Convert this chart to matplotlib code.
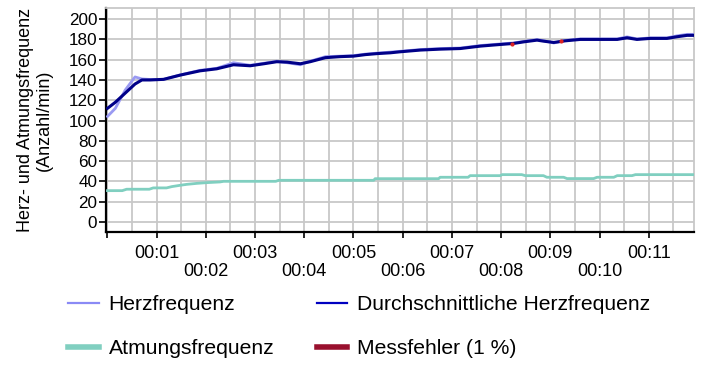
import matplotlib
matplotlib.use("Agg")
import matplotlib.pyplot as plt
from matplotlib.lines import Line2D

plt.rcParams['font.family'] = ['Liberation Sans', 'DejaVu Sans']

# ---- data (minutes, counts per minute) ----
hr_time = [0, 0.16, 0.36, 0.56, 0.7, 0.87, 1.14, 1.48, 1.88, 2.22, 2.56, 2.9, 3.18,
           3.44, 3.65, 3.92, 4.12, 4.43, 4.73, 5.0, 5.24, 5.48, 5.75, 5.95, 6.36,
           6.76, 7.17, 7.58, 7.98, 8.25, 8.46, 8.73, 8.86, 9.07, 9.3, 9.61, 10.0,
           10.36, 10.56, 10.76, 11.03, 11.37, 11.57, 11.78, 11.9]
hr_avg = [112, 118, 127, 136, 140, 140, 140.6, 144.8, 149, 151, 155, 154, 156,
          158, 157.6, 156, 158, 162, 163, 163.5, 165, 166, 166.8, 167.8, 169.5,
          170.4, 171, 173.4, 175, 176, 177.6, 179.3, 178.3, 177, 178.6, 180, 180,
          180, 181.6, 180, 181, 181, 182.6, 184, 184]
hr_raw = [104, 112, 130, 143, 141, 140.5, 140.6, 145, 149.5, 151.5, 157, 154.5, 156.5,
          158.5, 157, 155, 158.5, 163, 163.5, 164, 165.5, 166.5, 167.5, 168.3, 170,
          171, 171.5, 174, 175.5, 176.5, 178, 179.8, 178.8, 176.5, 179, 180.5, 180.5,
          180.5, 182.5, 180.5, 181.5, 181.5, 183.5, 185, 185]

resp_time = [0, 0.3, 0.39, 0.85, 0.93, 1.2, 1.31, 1.48, 1.61, 1.82, 2.02, 2.29, 2.36,
             3.42, 3.48, 5.41, 5.44, 6.73, 6.76, 7.33, 7.37, 7.98, 8.02, 8.42, 8.49,
             8.86, 8.93, 9.27, 9.34, 9.88, 9.95, 10.29, 10.36, 10.66, 10.73, 11.9]
resp_val = [30.8, 30.8, 32.2, 32.2, 33.5, 33.5, 34.8, 36.1, 37, 38, 38.7, 39.4, 40,
            40, 41, 41, 42.6, 42.6, 44, 44, 45.6, 45.6, 46.6, 46.6, 45.6,
            45.6, 44, 44, 42.7, 42.7, 44, 44, 45.6, 45.6, 46.6, 46.6]

err_time = [8.23, 9.22]
err_val = [175.5, 178.6]

x_ticks = list(range(0, 12))
x_tick_labels = ['', '00:01', '00:02', '00:03', '00:04', '00:05', '00:06',
                 '00:07', '00:08', '00:09', '00:10', '00:11']
y_ticks = list(range(0, 201, 20))

series_names = ['Herzfrequenz', 'Durchschnittliche Herzfrequenz',
                'Atmungsfrequenz', 'Messfehler (1 %)']

# ---- figure ----
fig = plt.figure(figsize=(7.02, 3.67), dpi=100)
ax = fig.add_axes([105.5 / 702, 1 - 232 / 367, (694 - 105.5) / 702, (232 - 8) / 367])

c_raw = '#9a9af2'
c_avg = '#000088'
c_resp = '#80cfc0'
c_err = '#99102e'

ax.plot(resp_time, resp_val, color=c_resp, lw=2.0, zorder=3)
ax.plot(hr_time, hr_raw, color=c_raw, lw=2.0, zorder=3)
ax.plot(hr_time, hr_avg, color=c_avg, lw=2.2, zorder=4)
ax.plot(err_time, err_val, 'o', color='#dd2222', ms=2, zorder=5)

ax.set_xlim(-0.04, 11.92)
ax.set_ylim(-10, 211)

ax.set_xticks(x_ticks)
labels = [lab if (i % 2 == 1 or lab == '') else '\n' + lab
          for i, lab in enumerate(x_tick_labels)]
ax.set_xticklabels(labels, fontsize=13, linespacing=1.08)
ax.set_xticks([m + 0.5 for m in range(0, 12)], minor=True)
ax.set_yticks(y_ticks)
ax.set_yticklabels([str(v) for v in y_ticks], fontsize=12.3)

ax.tick_params(axis='x', which='major', length=4, width=1.2, color='black', pad=5)
ax.tick_params(axis='x', which='minor', length=0)
ax.tick_params(axis='y', which='major', length=5, width=1.2, color='black', pad=1)

ax.grid(True, which='both', axis='x', color='#c8c8c8', lw=1.3, zorder=0)
ax.grid(True, which='major', axis='y', color='#c8c8c8', lw=1.3, zorder=0)
ax.set_axisbelow(True)

for s in ['left', 'bottom']:
    ax.spines[s].set_color('black')
    ax.spines[s].set_linewidth(1.6)
for s in ['top', 'right']:
    ax.spines[s].set_color('#c8c8c8')
    ax.spines[s].set_linewidth(1.3)

fig.text(35 / 702, 1 - 120 / 367, 'Herz- und Atmungsfrequenz\n(Anzahl/min)',
         rotation=90, ha='center', va='center', fontsize=13, linespacing=1.15,
         multialignment='center')

handles = [
    Line2D([], [], color='#8a8af5', lw=1.6),
    Line2D([], [], color=c_resp, lw=4),
    Line2D([], [], color='#0000c0', lw=1.6),
    Line2D([], [], color=c_err, lw=4),
]
leg_labels = [series_names[0], series_names[2], series_names[1], series_names[3]]
fig.legend(handles, leg_labels, ncol=2, loc='upper left',
           bbox_to_anchor=(68 / 702, 1 - 295 / 367), frameon=False,
           fontsize=15.2, handlelength=1.45, handletextpad=0.48,
           columnspacing=2.0, labelspacing=1.18, borderaxespad=0, borderpad=0)

fig.savefig('out.png', dpi=100)
